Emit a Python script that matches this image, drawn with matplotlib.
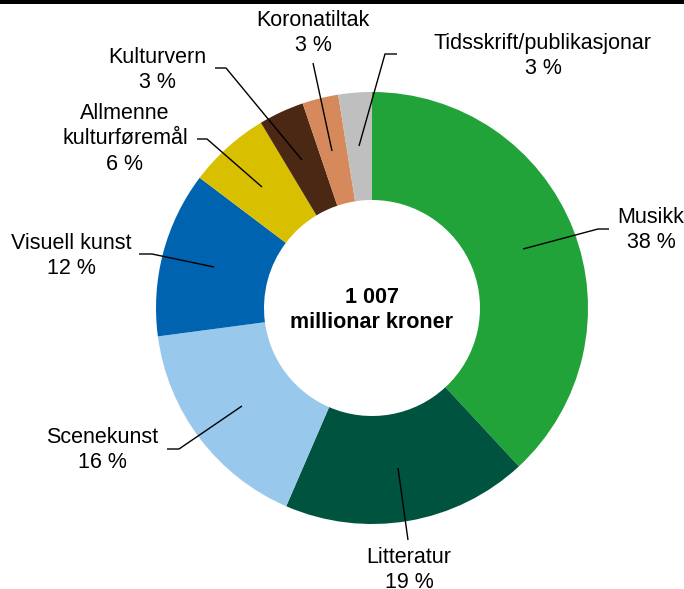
import matplotlib
matplotlib.use("Agg")
import matplotlib.pyplot as plt
from matplotlib.patches import Rectangle

plt.rcParams['font.family'] = ['Liberation Sans', 'DejaVu Sans']

categories = ["Musikk", "Litteratur", "Scenekunst", "Visuell kunst",
              "Allmenne\nkulturføremål", "Kulturvern", "Koronatiltak",
              "Tidsskrift/publikasjonar"]
values = [38.1, 18.4, 16.4, 12.4, 6.1, 3.4, 2.7, 2.5]
pct_labels = ["38 %", "19 %", "16 %", "12 %", "6 %", "3 %", "3 %", "3 %"]
colors = ["#22A33A", "#00533F", "#98C8EC", "#0063B0", "#D8C000",
          "#4A2814", "#D6895A", "#BFBFBF"]
total_text = "1 007\nmillionar kroner"

W, H = 684, 589
fig = plt.figure(figsize=(W / 100, H / 100), dpi=100)
ax = fig.add_axes([0, 0, 1, 1])

cx, cy, R = 372, 308, 216
ax.pie(values, colors=colors, center=(cx, cy), radius=R,
       startangle=-90, counterclock=True,
       wedgeprops=dict(width=108, linewidth=0))
ax.set_xlim(0, W)
ax.set_ylim(H, 0)
ax.set_aspect('equal')
ax.axis('off')

# label block centres (x, y) and leader lines
label_pos = [(651, 230), (409, 570), (102, 450), (71, 256),
             (125, 139), (157, 70), (313, 33), (543, 56)]
leaders = [
    [(523, 249), (598, 229), (609, 229)],
    [(398, 468), (408, 540)],
    [(242, 406), (179, 449), (167, 449)],
    [(214, 267), (152, 254), (139, 254)],
    [(262, 187), (207, 139), (197, 139)],
    [(302, 160), (226, 68), (215, 68)],
    [(332, 151), (313, 63)],
    [(359, 146), (385, 54), (397, 54)],
]
for cat, pct, (tx, ty), pts in zip(categories, pct_labels, label_pos, leaders):
    ax.text(tx, ty, cat + "\n" + pct, ha='center', va='center',
            fontsize=15.5, linespacing=1.28, color='black')
    xs, ys = zip(*pts)
    ax.plot(xs, ys, color='black', linewidth=1.0, solid_capstyle='butt')

ax.text(cx, 310, total_text, ha='center', va='center', fontsize=15.5,
        fontweight='bold', linespacing=1.28)

fig.patches.append(Rectangle((0, 1 - 3.5 / H), 1, 3.5 / H, transform=fig.transFigure,
                             facecolor='black', edgecolor='none'))

fig.savefig("out.png", dpi=100)
